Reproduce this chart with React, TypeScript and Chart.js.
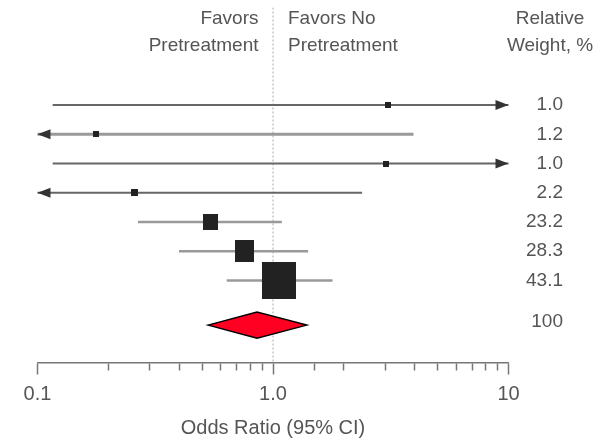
import React, { useEffect, useRef } from "react";
import { Chart, registerables } from "chart.js";

Chart.register(...registerables);

// ---------- data ----------
const X_MIN = 0.1;
const X_MAX = 10;
const NULL_EFFECT = 1;

const rowIndex = [0, 1, 2, 3, 4, 5, 6];
const estimates = [3.08, 0.178, 3.02, 0.258, 0.543, 0.757, 1.057];
const lowerCI = [0.116, 0.06, 0.116, 0.07, 0.267, 0.399, 0.636];
const upperCI = [14, 3.95, 14, 2.39, 1.09, 1.41, 1.79];
const weightLabels = ["1.0", "1.2", "1.0", "2.2", "23.2", "28.3", "43.1"];

const pooledRow = 7.53;
const pooledEstimate = 0.855;
const pooledLower = 0.53;
const pooledUpper = 1.39;
const pooledWeight = "100";

const tickValues = [0.1, 1, 10];
const tickLabels = ["0.1", "1.0", "10"];

const headerLeft = ["Favors", "Pretreatment"];
const headerRight = ["Favors No", "Pretreatment"];
const headerWeight = ["Relative", "Weight, %"];
const axisTitle = "Odds Ratio (95% CI)";

// ---------- styles ----------
const FONT = "'Liberation Sans', Arial, Helvetica, sans-serif";
const TEXT = "#555";
const markerW = [6, 6, 6, 7, 15, 19, 34];
const markerH = [6, 6, 6, 7, 16, 22, 37];
const lineColors = ["#666", "#999", "#666", "#666", "#9a9a9a", "#9a9a9a", "#9a9a9a"];
const lineWidths = [2, 3, 2, 2, 2.5, 2.5, 2.5];
const Y_MIN = -3.34;
const Y_MAX = 8.81;

const isMajor = (v: number) => tickValues.some((t) => Math.abs(t - v) < 1e-9);

const forestPlugin = {
  id: "forestExtras",
  afterDatasetsDraw(chart: any) {
    const { ctx, scales } = chart;
    const x = scales.x;
    const y = scales.y;
    ctx.save();

    // arrowheads for clipped intervals
    const drawArrow = (tx: number, ty: number, dir: number) => {
      ctx.beginPath();
      ctx.moveTo(tx, ty);
      ctx.lineTo(tx - dir * 13, ty - 5);
      ctx.lineTo(tx - dir * 13, ty + 5);
      ctx.closePath();
      ctx.fillStyle = "#333";
      ctx.fill();
    };
    rowIndex.forEach((i) => {
      const py = y.getPixelForValue(i);
      if (upperCI[i] > X_MAX) drawArrow(x.getPixelForValue(X_MAX), py, 1);
      if (lowerCI[i] < X_MIN) drawArrow(x.getPixelForValue(X_MIN), py, -1);
    });

    // pooled diamond
    const dy = y.getPixelForValue(pooledRow);
    const half = 13;
    ctx.beginPath();
    ctx.moveTo(x.getPixelForValue(pooledLower), dy);
    ctx.lineTo(x.getPixelForValue(pooledEstimate), dy - half);
    ctx.lineTo(x.getPixelForValue(pooledUpper), dy);
    ctx.lineTo(x.getPixelForValue(pooledEstimate), dy + half);
    ctx.closePath();
    ctx.fillStyle = "#ff0022";
    ctx.fill();
    ctx.lineWidth = 1.5;
    ctx.strokeStyle = "#000";
    ctx.lineJoin = "miter";
    ctx.stroke();

    // weight labels
    ctx.font = `19px ${FONT}`;
    ctx.fillStyle = TEXT;
    ctx.textBaseline = "middle";
    ctx.textAlign = "right";
    rowIndex.forEach((i) => {
      ctx.fillText(weightLabels[i], 563, y.getPixelForValue(i));
    });
    ctx.fillText(pooledWeight, 563, dy - 3);

    // headers
    const cx = x.getPixelForValue(NULL_EFFECT);
    const hy = [19, 46];
    ctx.textAlign = "right";
    headerLeft.forEach((t, k) => ctx.fillText(t, cx - 14.5, hy[k]));
    ctx.textAlign = "left";
    headerRight.forEach((t, k) => ctx.fillText(t, cx + 15, hy[k]));
    ctx.textAlign = "center";
    headerWeight.forEach((t, k) => ctx.fillText(t, 550, hy[k]));

    ctx.restore();
  },
};

export default function App() {
  const ref = useRef<HTMLCanvasElement | null>(null);

  useEffect(() => {
    if (!ref.current) return;

    const markerImages = rowIndex.map((i) => {
      const c = document.createElement("canvas");
      c.width = markerW[i];
      c.height = markerH[i];
      const g = c.getContext("2d")!;
      g.fillStyle = "#222";
      g.fillRect(0, 0, markerW[i], markerH[i]);
      return c;
    });

    const ciDatasets = rowIndex.map((i) => ({
      type: "scatter" as const,
      data: [
        { x: lowerCI[i], y: i },
        { x: upperCI[i], y: i },
      ],
      showLine: true,
      borderColor: lineColors[i],
      borderWidth: lineWidths[i],
      pointRadius: 0,
      order: 5,
    }));

    const chart = new Chart(ref.current, {
      type: "scatter",
      data: {
        datasets: [
          {
            data: [
              { x: NULL_EFFECT, y: Y_MIN },
              { x: NULL_EFFECT, y: Y_MAX },
            ],
            showLine: true,
            borderColor: "#aaa",
            borderWidth: 1,
            borderDash: [2, 2],
            pointRadius: 0,
            order: 10,
          },
          ...ciDatasets,
          {
            data: rowIndex.map((i) => ({ x: estimates[i], y: i })),
            pointStyle: markerImages as any,
            pointRadius: 3,
            backgroundColor: "#222",
            borderWidth: 0,
            order: 1,
          },
        ] as any,
      },
      options: {
        animation: false,
        responsive: false,
        events: [],
        layout: { padding: { left: 37.5, right: 101.5, top: 7.5, bottom: 0 } },
        plugins: { legend: { display: false }, tooltip: { enabled: false } },
        scales: {
          x: {
            type: "logarithmic",
            min: X_MIN,
            max: X_MAX,
            position: "bottom",
            afterFit: (scale: any) => {
              scale.height = 78.5;
            },
            border: { display: true, color: "#777", width: 1.5 },
            grid: {
              display: true,
              drawOnChartArea: false,
              drawTicks: true,
              tickLength: 12,
              tickColor: "#777",
              tickWidth: 1.5,
              tickBorderDash: (c: any) => (c.tick && isMajor(c.tick.value) ? [] : [7, 40]),
            } as any,
            ticks: {
              autoSkip: false,
              maxRotation: 0,
              padding: 8,
              color: TEXT,
              font: { family: FONT, size: 20 },
              callback: (v: any) => {
                const k = tickValues.findIndex((t) => Math.abs(t - Number(v)) < 1e-9);
                return k >= 0 ? tickLabels[k] : "";
              },
            },
            title: {
              display: true,
              text: axisTitle,
              color: TEXT,
              font: { family: FONT, size: 20 },
              padding: { top: 0, bottom: 1 },
            },
          } as any,
          y: {
            type: "linear",
            display: false,
            reverse: true,
            min: Y_MIN,
            max: Y_MAX,
          },
        },
      },
      plugins: [forestPlugin],
    });

    return () => chart.destroy();
  }, []);

  return (
    <div style={{ position: "absolute", left: 0, top: 0, width: 610, height: 441, background: "#fff" }}>
      <canvas ref={ref} width={610} height={441} style={{ display: "block" }} />
    </div>
  );
}
